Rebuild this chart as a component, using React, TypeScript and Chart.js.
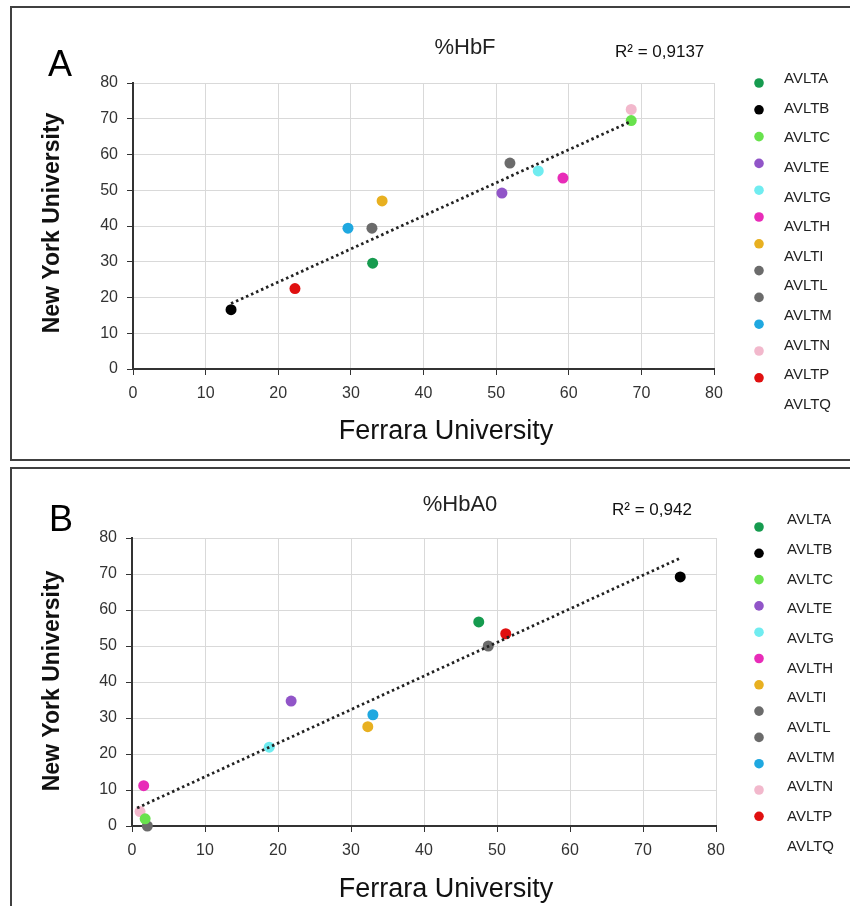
import React, { useEffect, useRef } from "react";
import { Chart, registerables } from "chart.js";

Chart.register(...registerables);

// ---------- data ----------
const series = ["AVLTA", "AVLTB", "AVLTC", "AVLTE", "AVLTG", "AVLTH", "AVLTI", "AVLTL", "AVLTM", "AVLTN", "AVLTP", "AVLTQ"];
const markerColors = ["#169b4f", "#000000", "#68e24d", "#9155c8", "#70ecf0", "#e82cb8", "#e8b020", "#6b6b6b", "#6b6b6b", "#1fa8e0", "#f2b8cc", "#e01010"];

// Panel A: %HbF
const hbfFerrara = [33.0, 13.5, 68.6, 50.8, 55.8, 59.2, 34.3, 32.9, 51.9, 29.6, 68.6, 22.3];
const hbfNewYork = [29.6, 16.6, 69.5, 49.2, 55.4, 53.4, 47.0, 39.4, 57.6, 39.4, 72.6, 22.5];
const hbfTrendFerrara = [13.5, 68.6];
const hbfTrendNewYork = [18.3, 69.3];
const hbfR2 = "R² = 0,9137";

// Panel B: %HbA0
const hba0Ferrara = [47.5, 75.1, 1.8, 21.8, 18.8, 1.6, 32.3, 2.1, 48.8, 33.0, 1.1, 51.2];
const hba0NewYork = [56.7, 69.2, 2.0, 34.7, 21.9, 11.2, 27.6, 0.0, 50.0, 30.9, 4.0, 53.4];
const hba0TrendFerrara = [0.7, 75.3];
const hba0TrendNewYork = [5.0, 74.6];
const hba0R2 = "R² = 0,942";

const axisMin = 0;
const axisMax = 80;
const axisStep = 10;
const xAxisTitle = "Ferrara University";
const yAxisTitle = "New York University";

const FONT = '"Liberation Sans", Arial, sans-serif';
const W = 850;

type Layout = {
  canvasTop: number;
  height: number;
  area: { left: number; right: number; top: number; bottom: number };
  letter: [number, number];
  title: [number, number];
  r2: [number, number];
  yTitle: [number, number];
  xTitle: [number, number];
  legend: { mx: number; my0: number; mstep: number; lx: number; ly0: number; lstep: number };
};

type PanelProps = {
  letter: string;
  title: string;
  r2: string;
  xs: number[];
  ys: number[];
  tx: number[];
  ty: number[];
  layout: Layout;
};

function Panel({ letter, title, r2, xs, ys, tx, ty, layout }: PanelProps) {
  const ref = useRef<HTMLCanvasElement | null>(null);

  useEffect(() => {
    const canvas = ref.current;
    if (!canvas) return;
    const L = layout;
    const Y_W = 40;
    const X_H = 30;

    const decor = {
      id: "decor" + letter,
      afterDraw(chart: any) {
        const ctx = chart.ctx as CanvasRenderingContext2D;
        ctx.save();
        // panel letter
        ctx.fillStyle = "#000";
        ctx.textAlign = "center";
        ctx.textBaseline = "middle";
        ctx.font = `36px ${FONT}`;
        ctx.fillText(letter, L.letter[0], L.letter[1]);
        // title
        ctx.fillStyle = "#222";
        ctx.font = `22px ${FONT}`;
        ctx.fillText(title, L.title[0], L.title[1]);
        // R²
        ctx.textAlign = "left";
        ctx.fillStyle = "#111";
        ctx.font = `17px ${FONT}`;
        ctx.fillText(r2, L.r2[0], L.r2[1]);
        // x axis title
        ctx.textAlign = "center";
        ctx.fillStyle = "#111";
        ctx.font = `27px ${FONT}`;
        ctx.fillText(xAxisTitle, L.xTitle[0], L.xTitle[1]);
        // y axis title
        ctx.save();
        ctx.translate(L.yTitle[0], L.yTitle[1]);
        ctx.rotate(-Math.PI / 2);
        ctx.font = `bold 23px ${FONT}`;
        ctx.fillText(yAxisTitle, 0, 0);
        ctx.restore();
        // legend
        const lg = L.legend;
        const ds = chart.data.datasets.filter((d: any) => d.isSeries);
        ds.forEach((d: any, i: number) => {
          ctx.beginPath();
          ctx.fillStyle = d.backgroundColor;
          ctx.arc(lg.mx, lg.my0 + i * lg.mstep, 4.8, 0, Math.PI * 2);
          ctx.fill();
          ctx.fillStyle = "#222";
          ctx.textAlign = "left";
          ctx.textBaseline = "middle";
          ctx.font = `15px ${FONT}`;
          ctx.fillText(d.label, lg.lx, lg.ly0 + i * lg.lstep);
        });
        ctx.restore();
      },
    };

    const datasets: any[] = series.map((name, i) => ({
      label: name,
      isSeries: true,
      data: [{ x: xs[i], y: ys[i] }],
      backgroundColor: markerColors[i],
      borderColor: markerColors[i],
      pointRadius: 5.5,
      pointBorderWidth: 0,
      showLine: false,
      clip: false,
    }));
    datasets.push({
      label: "trend",
      isSeries: false,
      data: tx.map((x, i) => ({ x, y: ty[i] })),
      showLine: true,
      borderColor: "#222",
      borderWidth: 2.8,
      borderDash: [2.5, 3],
      pointRadius: 0,
      fill: false,
      order: -1,
      clip: false,
    });

    const axisCommon = (isX: boolean) => ({
      type: "linear",
      min: axisMin,
      max: axisMax,
      ticks: {
        stepSize: axisStep,
        color: "#333",
        font: { family: FONT, size: 16 },
        padding: 9,
      },
      grid: { color: "#d9d9d9", tickColor: "#333", tickLength: 6, lineWidth: 1 },
      border: { color: "#333", width: 2 },
      afterFit: (s: any) => {
        if (isX) s.height = X_H;
        else s.width = Y_W;
      },
    });

    const chart = new Chart(canvas, {
      type: "scatter",
      data: { datasets },
      options: {
        responsive: false,
        animation: false,
        devicePixelRatio: 1,
        layout: {
          padding: {
            left: L.area.left - Y_W,
            right: W - L.area.right,
            top: L.area.top,
            bottom: L.height - L.area.bottom - X_H,
          },
        },
        plugins: { legend: { display: false }, tooltip: { enabled: false } },
        scales: { x: axisCommon(true) as any, y: axisCommon(false) as any },
      },
      plugins: [decor],
    });
    return () => chart.destroy();
  }, []);

  return (
    <canvas
      ref={ref}
      width={W}
      height={layout.height}
      style={{ position: "absolute", left: 0, top: layout.canvasTop, width: W, height: layout.height }}
    />
  );
}

const layoutA: Layout = {
  canvasTop: 0,
  height: 462,
  area: { left: 133, right: 714, top: 83, bottom: 369 },
  letter: [60, 66],
  title: [465, 48],
  r2: [615, 52],
  yTitle: [53, 223],
  xTitle: [446, 432],
  legend: { mx: 759, my0: 83, mstep: 26.8, lx: 784, ly0: 79, lstep: 29.6 },
};

const layoutB: Layout = {
  canvasTop: 462,
  height: 444,
  area: { left: 132, right: 716, top: 76, bottom: 364 },
  letter: [61, 59],
  title: [460, 43],
  r2: [612, 48],
  yTitle: [53, 219],
  xTitle: [446, 428],
  legend: { mx: 759, my0: 65, mstep: 26.3, lx: 787, ly0: 58, lstep: 29.7 },
};

export default function App() {
  return (
    <div style={{ position: "absolute", left: 0, top: 0, width: 850, height: 906, overflow: "hidden", background: "#fff" }}>
      <div style={{ position: "absolute", left: 10, top: 6, width: 860, height: 451, border: "2px solid #404040" }} />
      <div style={{ position: "absolute", left: 10, top: 467, width: 860, height: 460, border: "2px solid #404040" }} />
      <Panel letter="A" title="%HbF" r2={hbfR2} xs={hbfFerrara} ys={hbfNewYork} tx={hbfTrendFerrara} ty={hbfTrendNewYork} layout={layoutA} />
      <Panel letter="B" title="%HbA0" r2={hba0R2} xs={hba0Ferrara} ys={hba0NewYork} tx={hba0TrendFerrara} ty={hba0TrendNewYork} layout={layoutB} />
    </div>
  );
}
